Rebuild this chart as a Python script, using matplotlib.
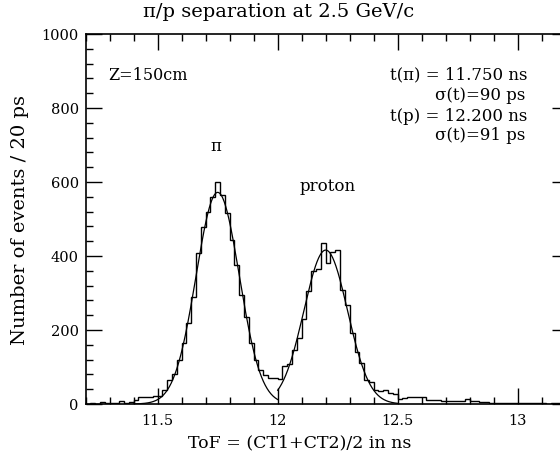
import numpy as np
import matplotlib
matplotlib.use("Agg")
import matplotlib.pyplot as plt
from matplotlib.ticker import MultipleLocator

# ---- data ----
bin_start = 11.20
bin_width = 0.02
counts = [0, 2, 0, 5, 3, 2, 3, 8, 3, 5,
          12, 20, 18, 18, 22, 22, 38, 65, 82, 118,
          165, 219, 289, 408, 478, 519, 560, 601, 565, 516,
          443, 376, 295, 236, 165, 119, 92, 78, 70, 69,
          67, 103, 108, 146, 178, 230, 306, 360, 365, 434,
          382, 412, 415, 308, 268, 192, 141, 110, 65, 60,
          38, 35, 38, 30, 28, 13, 17, 20, 20, 20,
          18, 11, 11, 10, 9, 9, 8, 8, 7, 13,
          7, 7, 6, 5, 4, 4, 3, 3, 2, 4,
          3, 3, 2, 3, 2, 3, 1, 3, 2]

# Gaussian fits: amplitude, mean (ns), sigma (ns), fit range
pion_fit = dict(A=572, mu=11.75, sigma=0.090, lo=11.40, hi=12.00)
proton_fit = dict(A=416, mu=12.20, sigma=0.091, lo=12.00, hi=12.50)

xticks = [11.5, 12, 12.5, 13]
xticklabels = ["11.5", "12", "12.5", "13"]
yticks = [0, 200, 400, 600, 800, 1000]

title = "\u03c0/p separation at 2.5 GeV/c"
xlabel = "ToF = (CT1+CT2)/2 in ns"
ylabel = "Number of events / 20 ps"

# ---- figure ----
W, H = 560, 461
fig = plt.figure(figsize=(W / 100, H / 100), dpi=100)
left, right, bottom, top = 85.7, 568.0, 404.0, 34.0
ax = fig.add_axes([left / W, (H - bottom) / H, (right - left) / W, (bottom - top) / H])

serif = ["DejaVu Serif"]

edges = bin_start + bin_width * np.arange(len(counts) + 1)
ax.stairs(counts, edges, color="black", lw=1.0)

for f in (pion_fit, proton_fit):
    t = np.linspace(f["lo"], f["hi"], 300)
    ax.plot(t, f["A"] * np.exp(-0.5 * ((t - f["mu"]) / f["sigma"]) ** 2),
            color="black", lw=0.9)

ax.set_xlim(11.2, 11.2 + (right - left) / 240.0)
ax.set_ylim(0, 1000)
ax.set_xticks(xticks)
ax.set_xticklabels(xticklabels)
ax.set_yticks(yticks)
ax.xaxis.set_minor_locator(MultipleLocator(0.1))
ax.yaxis.set_minor_locator(MultipleLocator(40))
ax.tick_params(which="both", direction="in", top=True, right=True, width=1.0,
               labelsize=10.5)
ax.tick_params(axis="x", which="both", pad=7)
ax.tick_params(axis="y", which="both", pad=5)
ax.tick_params(which="major", length=11.5)
ax.tick_params(which="minor", length=5)
for lab in ax.get_xticklabels() + ax.get_yticklabels():
    lab.set_family(serif)
for s in ax.spines.values():
    s.set_linewidth(1.2)

fs = 12
ax.text(11.293, 889, "Z=150cm", family=serif, fontsize=11.5, va="center", ha="left")
ax.text(12.468, 889, "t(\u03c0) = 11.750 ns", family=serif, fontsize=fs, va="center", ha="left")
ax.text(12.655, 835, "\u03c3(t)=90 ps", family=serif, fontsize=fs, va="center", ha="left")
ax.text(12.468, 776, "t(p) = 12.200 ns", family=serif, fontsize=fs, va="center", ha="left")
ax.text(12.655, 727, "\u03c3(t)=91 ps", family=serif, fontsize=fs, va="center", ha="left")
ax.text(11.744, 695, "\u03c0", family=serif, fontsize=fs, va="center", ha="center")
ax.text(12.207, 589, "proton", family=serif, fontsize=fs, va="center", ha="center")

fig.text(278.6 / W, 1 - 12 / H, title, family=serif, fontsize=14, ha="center", va="center")
fig.text(300 / W, 1 - 443 / H, xlabel, family=serif, fontsize=12.5, ha="center", va="center")
fig.text(20 / W, 1 - 220 / H, ylabel, family=serif, fontsize=14, ha="center", va="center",
         rotation=90)

fig.savefig("out.png", dpi=100)
